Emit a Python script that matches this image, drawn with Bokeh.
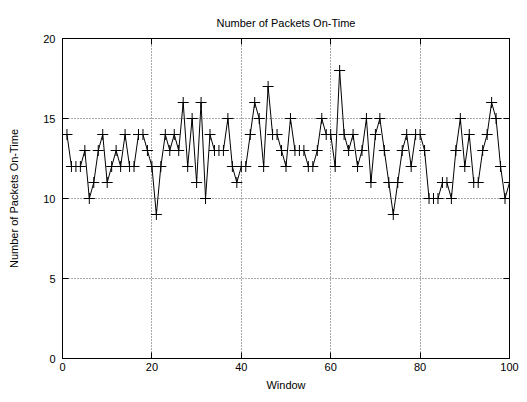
from bokeh.plotting import figure
from bokeh.models import LinearAxis, Range1d, FixedTicker
from bokeh.embed import file_html
from bokeh.resources import INLINE

windows = list(range(1, 101))
packets = [14, 12, 12, 12, 13, 10, 11, 13, 14, 11,
           12, 13, 12, 14, 12, 12, 14, 14, 13, 12,
           9, 12, 14, 13, 14, 13, 16, 12, 15, 11,
           16, 10, 14, 13, 13, 13, 15, 12, 11, 12,
           12, 14, 16, 15, 12, 17, 14, 14, 13, 12,
           15, 13, 13, 13, 12, 12, 13, 15, 14, 14,
           12, 18, 14, 13, 14, 12, 13, 15, 11, 14,
           15, 13, 11, 9, 11, 13, 14, 12, 14, 14,
           13, 10, 10, 10, 11, 11, 10, 13, 15, 12,
           14, 11, 11, 13, 14, 16, 15, 12, 10, 11]
x_ticks = [0, 20, 40, 60, 80, 100]
y_ticks = [0, 5, 10, 15, 20]

FONT = "Liberation Sans"

p = figure(output_backend="svg", toolbar_location=None,
           frame_width=447, frame_height=320,
           min_border_left=62, min_border_top=38, min_border_right=12, min_border_bottom=40,
           x_range=Range1d(0, 100), y_range=Range1d(0, 20),
           title="Number of Packets On-Time",
           x_axis_label="Window", y_axis_label="Number of Packets On-Time")

p.title.align = "center"
p.title.text_font = FONT
p.title.text_font_size = "11px"
p.title.text_font_style = "normal"
p.title.text_color = "black"
p.title.offset = 0
p.title.standoff = 20

p.outline_line_color = "black"
p.outline_line_width = 1
p.outline_line_alpha = 1
p.background_fill_color = "white"
p.border_fill_color = "white"

for ax, ticks in ((p.xaxis[0], x_ticks), (p.yaxis[0], y_ticks)):
    ax.ticker = FixedTicker(ticks=ticks)
    ax.major_tick_in = 6
    ax.major_tick_out = 0
    ax.minor_tick_in = 0
    ax.minor_tick_out = 0
    ax.axis_line_color = "black"
    ax.major_tick_line_color = "black"
    ax.major_label_text_font = FONT
    ax.major_label_text_font_size = "11px"
    ax.major_label_text_color = "black"
    ax.axis_label_text_font = FONT
    ax.axis_label_text_font_size = "11px"
    ax.axis_label_text_font_style = "normal"
    ax.axis_label_text_color = "black"

p.xaxis[0].major_label_standoff = 4
p.xaxis[0].axis_label_standoff = 5
p.yaxis[0].major_label_standoff = 7
p.yaxis[0].axis_label_standoff = 20

for loc, ticks in (("above", x_ticks), ("right", y_ticks)):
    ax = LinearAxis(ticker=FixedTicker(ticks=ticks))
    ax.major_tick_in = 6
    ax.major_tick_out = 0
    ax.minor_tick_in = 0
    ax.minor_tick_out = 0
    ax.major_label_overrides = {t: "" for t in ticks}
    ax.major_label_standoff = 0
    ax.axis_line_color = "black"
    ax.major_tick_line_color = "black"
    p.add_layout(ax, loc)

for g, ticks in ((p.xgrid[0], x_ticks), (p.ygrid[0], y_ticks)):
    g.ticker = FixedTicker(ticks=ticks)
    g.grid_line_color = "#555555"
    g.grid_line_dash = "1 2"
    g.grid_line_width = 1

p.line(windows, packets, line_color="black", line_width=1)
p.scatter(windows, packets, marker="cross", size=11, line_color="black", line_width=1)

open("out.html", "w").write(file_html(p, INLINE))
